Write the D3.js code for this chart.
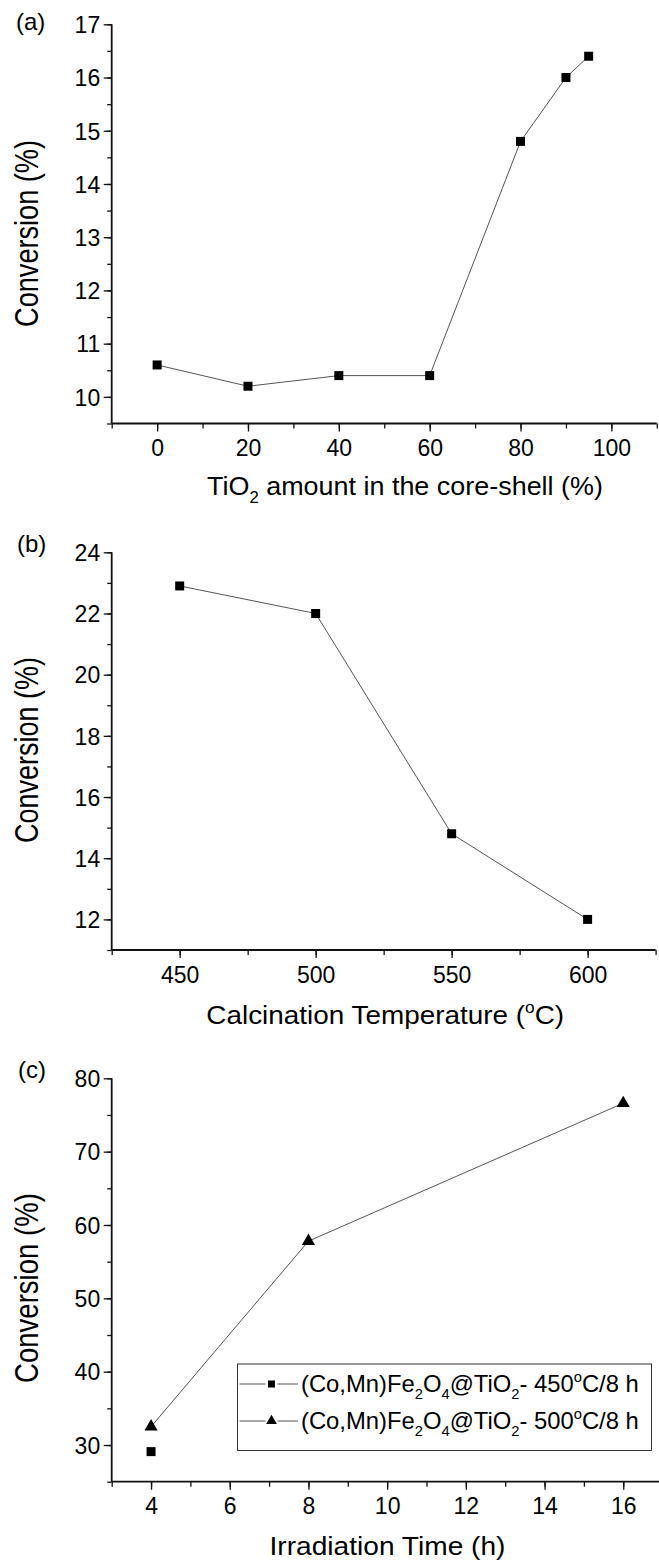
<!DOCTYPE html>
<html>
<head>
<meta charset="utf-8">
<script src="https://cdn.jsdelivr.net/npm/d3@7"></script>
<style>
  html, body { margin: 0; padding: 0; background: #fff; }
  svg { display: block; }
  text { font-family: "Liberation Sans", Arial, sans-serif; fill: #000; }
</style>
</head>
<body>
<svg id="chart" width="659" height="1561"></svg>
<script>
// ---------------- DATA ----------------
const tioAmount = [0, 20, 40, 60, 80, 90, 95];
const convA = [10.6, 10.2, 10.4, 10.4, 14.8, 16.0, 16.4];

const calcTemp = [450, 500, 550, 600];
const convB = [22.9, 22.0, 14.8, 12.0];

const irrTime450 = [4];
const conv450 = [29.1];
const irrTime500 = [4, 8, 16];
const conv500 = [32.5, 57.8, 76.6];

const xTicksA = [0, 20, 40, 60, 80, 100];
const yTicksA = [10, 11, 12, 13, 14, 15, 16, 17];
const xTicksB = [450, 500, 550, 600];
const yTicksB = [12, 14, 16, 18, 20, 22, 24];
const xTicksC = [4, 6, 8, 10, 12, 14, 16];
const yTicksC = [30, 40, 50, 60, 70, 80];

const legendLabels = [
  [{t: "(Co,Mn)Fe"}, {t: "2", sub: true}, {t: "O"}, {t: "4", sub: true}, {t: "@TiO"}, {t: "2", sub: true}, {t: "- 450"}, {t: "o", sup: true}, {t: "C/8 h"}],
  [{t: "(Co,Mn)Fe"}, {t: "2", sub: true}, {t: "O"}, {t: "4", sub: true}, {t: "@TiO"}, {t: "2", sub: true}, {t: "- 500"}, {t: "o", sup: true}, {t: "C/8 h"}]
];

// ---------------- HELPERS ----------------
const svg = d3.select("#chart");
const TICK_FONT = 23;

function richText(parent, x, y, segs, opts) {
  const size = opts.size || 22;
  const g = parent.append("g").attr("transform", `translate(${x},${y}) rotate(${opts.rotate || 0})`);
  const txt = g.append("text").attr("font-size", size).attr("x", 0).attr("y", 0);
  let shift = 0;
  segs.forEach(s => {
    const ts = txt.append("tspan").text(s.t);
    let target = 0;
    if (s.sub) { ts.attr("font-size", size * 0.62); target = size * 0.32; }
    else if (s.sup) { ts.attr("font-size", size * 0.62); target = -size * 0.42; }
    ts.attr("dy", target - shift);
    shift = target;
  });
  const w = txt.node().getBBox().width;
  let sx = 1;
  if (opts.width) sx = opts.width / w;
  let tx = 0;
  if (opts.anchor === "middle") tx = -w * sx / 2;
  else if (opts.anchor === "end") tx = -w * sx;
  txt.attr("transform", `translate(${tx},0) scale(${sx},1)`);
  return g;
}

function drawPanel(cfg) {
  const g = svg.append("g");
  const x = d3.scaleLinear().domain(cfg.xDomain).range(cfg.xRange);
  const y = d3.scaleLinear().domain(cfg.yDomain).range(cfg.yRange);
  const axisY0 = cfg.yRange[0];
  const axisX0 = cfg.xRange[0];

  // minor ticks
  const gxm = g.append("g").attr("transform", `translate(0,${axisY0})`)
    .call(d3.axisBottom(x).tickValues(cfg.xMinor).tickSize(5).tickFormat(""));
  const gym = g.append("g").attr("transform", `translate(${axisX0},0)`)
    .call(d3.axisLeft(y).tickValues(cfg.yMinor).tickSize(4.5).tickFormat(""));
  [gxm, gym].forEach(a => { a.select(".domain").remove(); a.selectAll("line").attr("stroke", "#111").attr("stroke-width", 1.3); });

  // major ticks
  const gx = g.append("g").attr("transform", `translate(0,${axisY0})`)
    .call(d3.axisBottom(x).tickValues(cfg.xTicks).tickSize(8).tickFormat(d3.format("d")));
  gx.select(".domain").remove();
  gx.selectAll("line").attr("stroke", "#111").attr("stroke-width", 1.3);
  gx.selectAll("text").attr("font-size", TICK_FONT).attr("font-family", "Liberation Sans, Arial, sans-serif")
    .attr("y", 32.5).attr("dy", 0).attr("fill", "#000");

  const gy = g.append("g").attr("transform", `translate(${axisX0},0)`)
    .call(d3.axisLeft(y).tickValues(cfg.yTicks).tickSize(8).tickFormat(d3.format("d")));
  gy.select(".domain").remove();
  gy.selectAll("line").attr("stroke", "#111").attr("stroke-width", 1.3);
  gy.selectAll("text").attr("font-size", TICK_FONT).attr("font-family", "Liberation Sans, Arial, sans-serif")
    .attr("x", -11.5).attr("dy", "0.36em").attr("fill", "#000");

  // axis lines
  g.append("line").attr("x1", axisX0).attr("x2", axisX0).attr("y1", cfg.yRange[1]).attr("y2", axisY0)
    .attr("stroke", "#111").attr("stroke-width", 1.8);
  g.append("line").attr("x1", axisX0).attr("x2", cfg.xRange[1]).attr("y1", axisY0).attr("y2", axisY0)
    .attr("stroke", "#111").attr("stroke-width", 1.8);

  return {g, x, y};
}

function drawSeries(p, xs, ys, symbol, size, withLine) {
  const pts = xs.map((d, i) => [p.x(d), p.y(ys[i])]);
  if (withLine && pts.length > 1) {
    p.g.append("path").attr("d", d3.line()(pts)).attr("fill", "none")
      .attr("stroke", "#555").attr("stroke-width", 1);
  }
  p.g.selectAll(null).data(pts).join("path")
    .attr("transform", d => `translate(${d[0]},${d[1]})`)
    .attr("d", d3.symbol().type(symbol).size(size)())
    .attr("fill", "#000");
}

// ---------------- PANEL A ----------------
const pA = drawPanel({
  xDomain: [-10, 110], xRange: [111.7, 656.8],
  yDomain: [9.5, 17], yRange: [423.5, 24.3],
  xTicks: xTicksA, xMinor: d3.range(-10, 111, 10),
  yTicks: yTicksA, yMinor: d3.range(9.5, 17.01, 0.5)
});
drawSeries(pA, tioAmount, convA, d3.symbolSquare, 81, true);
richText(svg, 16, 30, [{t: "(a)"}], {size: 24});
richText(svg, 38, 233.4, [{t: "Conversion (%)"}], {size: 33, rotate: -90, anchor: "middle", width: 187});
richText(svg, 207, 495, [{t: "TiO"}, {t: "2", sub: true}, {t: " amount in the core-shell (%)"}], {size: 26, width: 396});

// ---------------- PANEL B ----------------
const pB = drawPanel({
  xDomain: [425, 625], xRange: [111.7, 655.6],
  yDomain: [11, 24], yRange: [950, 552.3],
  xTicks: xTicksB, xMinor: d3.range(425, 626, 25),
  yTicks: yTicksB, yMinor: d3.range(11, 24.01, 1)
});
drawSeries(pB, calcTemp, convB, d3.symbolSquare, 81, true);
richText(svg, 17, 552, [{t: "(b)"}], {size: 24});
richText(svg, 38, 750, [{t: "Conversion (%)"}], {size: 33, rotate: -90, anchor: "middle", width: 186});
richText(svg, 206.3, 1024, [{t: "Calcination Temperature ("}, {t: "o", sup: true}, {t: "C)"}], {size: 26, width: 358});

// ---------------- PANEL C ----------------
const pC = drawPanel({
  xDomain: [3, 17], xRange: [111.7, 662.6],
  yDomain: [25, 80], yRange: [1481.7, 1078.3],
  xTicks: xTicksC, xMinor: d3.range(3, 17.01, 1),
  yTicks: yTicksC, yMinor: d3.range(25, 80.01, 5)
});
drawSeries(pC, irrTime450, conv450, d3.symbolSquare, 81, true);
drawSeries(pC, irrTime500, conv500, d3.symbolTriangle, 75, true);
richText(svg, 18, 1078, [{t: "(c)"}], {size: 24});
richText(svg, 38, 1288, [{t: "Conversion (%)"}], {size: 33, rotate: -90, anchor: "middle", width: 190});
richText(svg, 269.5, 1555, [{t: "Irradiation Time (h)"}], {size: 26, width: 236});

// legend
const leg = svg.append("g");
leg.append("rect").attr("x", 237.5).attr("y", 1364).attr("width", 414).attr("height", 86.5)
  .attr("fill", "#fff").attr("stroke", "#333").attr("stroke-width", 1);
const legSymbols = [d3.symbolSquare, d3.symbolTriangle];
const legSizes = [49, 50];
legendLabels.forEach((lab, i) => {
  const cy = 1384 + i * 37;
  leg.append("line").attr("x1", 239.5).attr("x2", 265.5).attr("y1", cy).attr("y2", cy)
    .attr("stroke", "#555").attr("stroke-width", 1);
  leg.append("line").attr("x1", 277.5).attr("x2", 298).attr("y1", cy).attr("y2", cy)
    .attr("stroke", "#555").attr("stroke-width", 1);
  leg.append("path").attr("transform", `translate(271.5,${cy})`)
    .attr("d", d3.symbol().type(legSymbols[i]).size(legSizes[i])()).attr("fill", "#000");
  richText(leg, 301, cy + 7.5, lab, {size: 23.5, width: 338});
});
</script>
</body>
</html>
